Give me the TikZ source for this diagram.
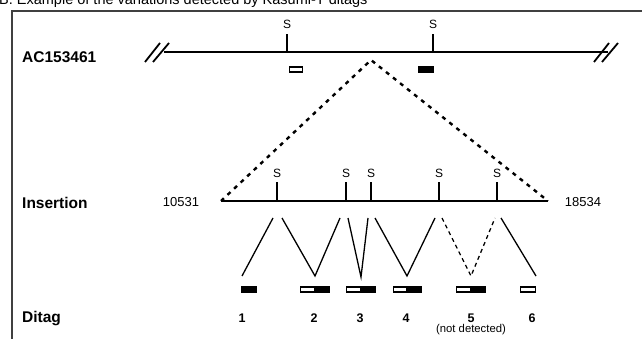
\documentclass[tikz,border=0pt]{standalone}
\usepackage{fontspec}
\setmainfont{Liberation Sans}
\begin{document}
\begin{tikzpicture}[x=1pt,y=-1pt,
  mainline/.style={line width=2pt},
  slash/.style={line width=1.8pt},
  tick/.style={line width=2pt},
  vline/.style={line width=1.3pt},
  vdash/.style={line width=1.3pt, dash pattern=on 4pt off 3.5pt},
  tri/.style={line width=2.4pt, dash pattern=on 4pt off 5pt},
  rowlbl/.style={font=\fontsize{15.5}{16}\selectfont\bfseries, anchor=west, inner sep=0},
  slbl/.style={font=\fontsize{12}{12}\selectfont, inner sep=0},
  numlbl/.style={font=\fontsize{12.5}{13}\selectfont\bfseries, inner sep=0},
  poslbl/.style={font=\fontsize{13}{13}\selectfont, inner sep=0},
  obox/.style={draw, fill=white, line width=1.2pt, inner sep=0, minimum height=5pt},
  fbox/.style={draw, fill=black, line width=1.2pt, inner sep=0, minimum height=5pt}
]
\useasboundingbox (0,0) rectangle (642,339);
% frame
\draw[line width=1.2pt, black!75] (12,341) |- (645,11);
% title (cut by the upper edge)
\node[anchor=base west, inner sep=0, font=\fontsize{14.5}{15}\selectfont] (title) at (-1,5) {B. Example of the variations detected by Kasumi-T ditags};

% ---------- AC153461 row ----------
\node[rowlbl] (aclbl) at (22,57) {AC153461};
\coordinate (acL) at (164,52);
\coordinate (acR) at (608,52);
\draw[mainline] (acL) -- (acR);
\draw[slash] (145,62) -- (160,43);
\draw[slash] (153,62) -- (169,43);
\draw[slash] (594,62) -- (609,43);
\draw[slash] (602,62) -- (618,43);
\coordinate (as1) at (287,52);
\coordinate (as2) at (433,52);
\draw[tick] (as1) -- ++(0,-18) coordinate (as1t);
\draw[tick] (as2) -- ++(0,-18) coordinate (as2t);
\node[slbl] (aS1) at (287,24) {S};
\node[slbl] (aS2) at (433,24) {S};
\node[obox, minimum width=13pt] (ab1) at (296,69.5) {};
\node[fbox, minimum width=14pt] (ab2) at (426,69.5) {};

% ---------- Insertion row ----------
\node[rowlbl] (inslbl) at (22,203) {Insertion};
\coordinate (apex) at (371,60);
\coordinate (iL) at (221,201);
\coordinate (iR) at (548,201);
\draw[tri] (iL) -- (apex) -- (iR);
\draw[mainline] (iL) -- (iR);
\node[poslbl] (p1) at (181,202) {10531};
\node[poslbl] (p2) at (583,202) {18534};
\foreach \i/\x in {1/277,2/346,3/371,4/439,5/497}{
  \draw[tick] (\x,201) -- (\x,182);
  \node[slbl] (iS\i) at (\x,173) {S};
}

% ---------- connectors ----------
\coordinate (t1) at (273,218); \coordinate (d1) at (242,276);
\coordinate (t2a) at (282,218); \coordinate (d2) at (315,276); \coordinate (t2b) at (340,218);
\coordinate (t3a) at (348,218); \coordinate (d3) at (361,277); \coordinate (t3b) at (368,218);
\coordinate (t4a) at (375,218); \coordinate (d4) at (407,276); \coordinate (t4b) at (435,218);
\coordinate (t5a) at (442,218); \coordinate (d5) at (471,276); \coordinate (t5b) at (495,218);
\coordinate (t6) at (501,218); \coordinate (d6) at (536,276);
\draw[vline] (t1) -- (d1);
\draw[vline] (t2a) -- (d2) -- (t2b);
\draw[vline] (t3a) -- (d3) -- (t3b);
\draw[vline] (t4a) -- (d4) -- (t4b);
\draw[vdash] (t5a) -- (d5) -- (t5b);
\draw[vline] (t6) -- (d6);

% ---------- Ditag row ----------
\node[rowlbl] (ditlbl) at (22,319) {Ditag};
\node[fbox, minimum width=15pt] (db1) at (249,289.5) {};
\node[obox, minimum width=14pt, anchor=east] (db2w) at (315,289.5) {};
\node[fbox, minimum width=14pt, anchor=west] (db2b) at (315,289.5) {};
\node[obox, minimum width=14pt, anchor=east] (db3w) at (361,289.5) {};
\node[fbox, minimum width=14pt, anchor=west] (db3b) at (361,289.5) {};
\node[obox, minimum width=13pt, anchor=east] (db4w) at (407,289.5) {};
\node[fbox, minimum width=14pt, anchor=west] (db4b) at (407,289.5) {};
\node[obox, minimum width=14pt, anchor=east] (db5w) at (471,289.5) {};
\node[fbox, minimum width=14pt, anchor=west] (db5b) at (471,289.5) {};
\node[obox, minimum width=15pt] (db6) at (528,289.5) {};
\node[numlbl] (n1) at (242,318) {1};
\node[numlbl] (n2) at (314,318) {2};
\node[numlbl] (n3) at (360,318) {3};
\node[numlbl] (n4) at (406,318) {4};
\node[numlbl] (n5) at (471,318) {5};
\node[numlbl] (n6) at (532,318) {6};
\node[font=\fontsize{11.3}{12}\selectfont, inner sep=0] (nd) at (471,330) {(not detected)};
\end{tikzpicture}
\end{document}
